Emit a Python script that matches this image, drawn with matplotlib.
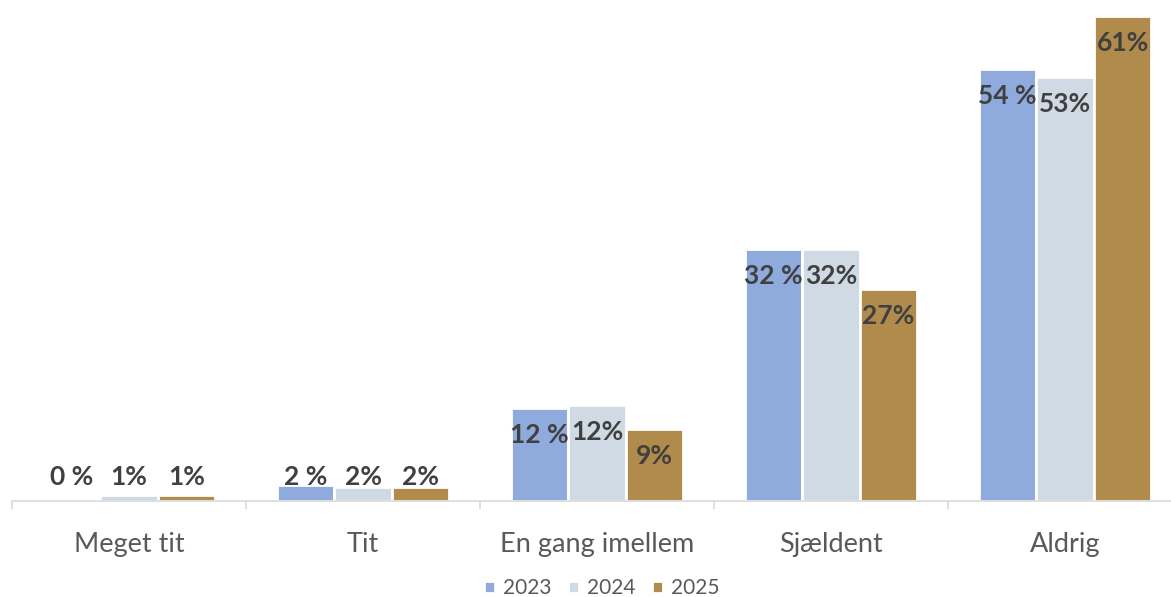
import matplotlib.pyplot as plt
import numpy as np

# Kategorier og værdier
categories = ["Meget tit", "Tit", "En gang imellem", "Sjældent", "Aldrig"]
years = ["2023", "2024", "2025"]
values_2023 = [0.0, 2.0, 11.7, 31.7, 54.3]
values_2024 = [0.8, 1.8, 12.1, 31.7, 53.3]
values_2025 = [0.8, 1.8, 9.0, 26.7, 61.0]
labels_2023 = ["0 %", "2 %", "12 %", "32 %", "54 %"]
labels_2024 = ["1%", "2%", "12%", "32%", "53%"]
labels_2025 = ["1%", "2%", "9%", "27%", "61%"]

colors = ["#8FAADC", "#CFDAE4", "#B18B4C"]
font = ["Lato", "DejaVu Sans"]

fig = plt.figure(figsize=(11.71, 5.97), dpi=100)
ax = fig.add_axes([12 / 1171, 96 / 597, 1170 / 1171, 501 / 597])

x = np.arange(len(categories))
w = 0.246
series = [values_2023, values_2024, values_2025]
labels = [labels_2023, labels_2024, labels_2025]

for i, (vals, labs) in enumerate(zip(series, labels)):
    pos = x + (i - 1) * w
    ax.bar(pos, vals, width=w, color=colors[i], edgecolor="white",
           linewidth=2, label=years[i], zorder=2)
    for px, v, lab in zip(pos, vals, labs):
        ax.text(px, max(v - 3.4, 3.0), lab, ha="center", va="center",
                fontsize=19, fontweight="bold", color="#404040", family=font)

ax.set_xlim(-0.5, 4.5)
ax.set_ylim(0, 63)

for s in ["top", "right", "left"]:
    ax.spines[s].set_visible(False)
ax.spines["bottom"].set_color("#D9D9D9")
ax.spines["bottom"].set_linewidth(1.2)
ax.set_yticks([])

ax.set_xticks(x)
ax.set_xticklabels(categories, fontsize=19.5, color="#595959", family=font)
ax.tick_params(axis="x", which="major", length=0, pad=22)
ax.set_xticks(np.arange(-0.5, 5, 1), minor=True)
ax.tick_params(axis="x", which="minor", length=6, color="#D9D9D9", width=1.2)

fig.legend(loc="center", bbox_to_anchor=(602 / 1171, 1 - 588 / 597), ncol=3,
           frameon=False, handlelength=0.5, handleheight=0.5,
           handletextpad=0.4, columnspacing=0.8,
           prop={"family": font, "size": 15}, labelcolor="#595959")

fig.savefig("out.png", dpi=100)
